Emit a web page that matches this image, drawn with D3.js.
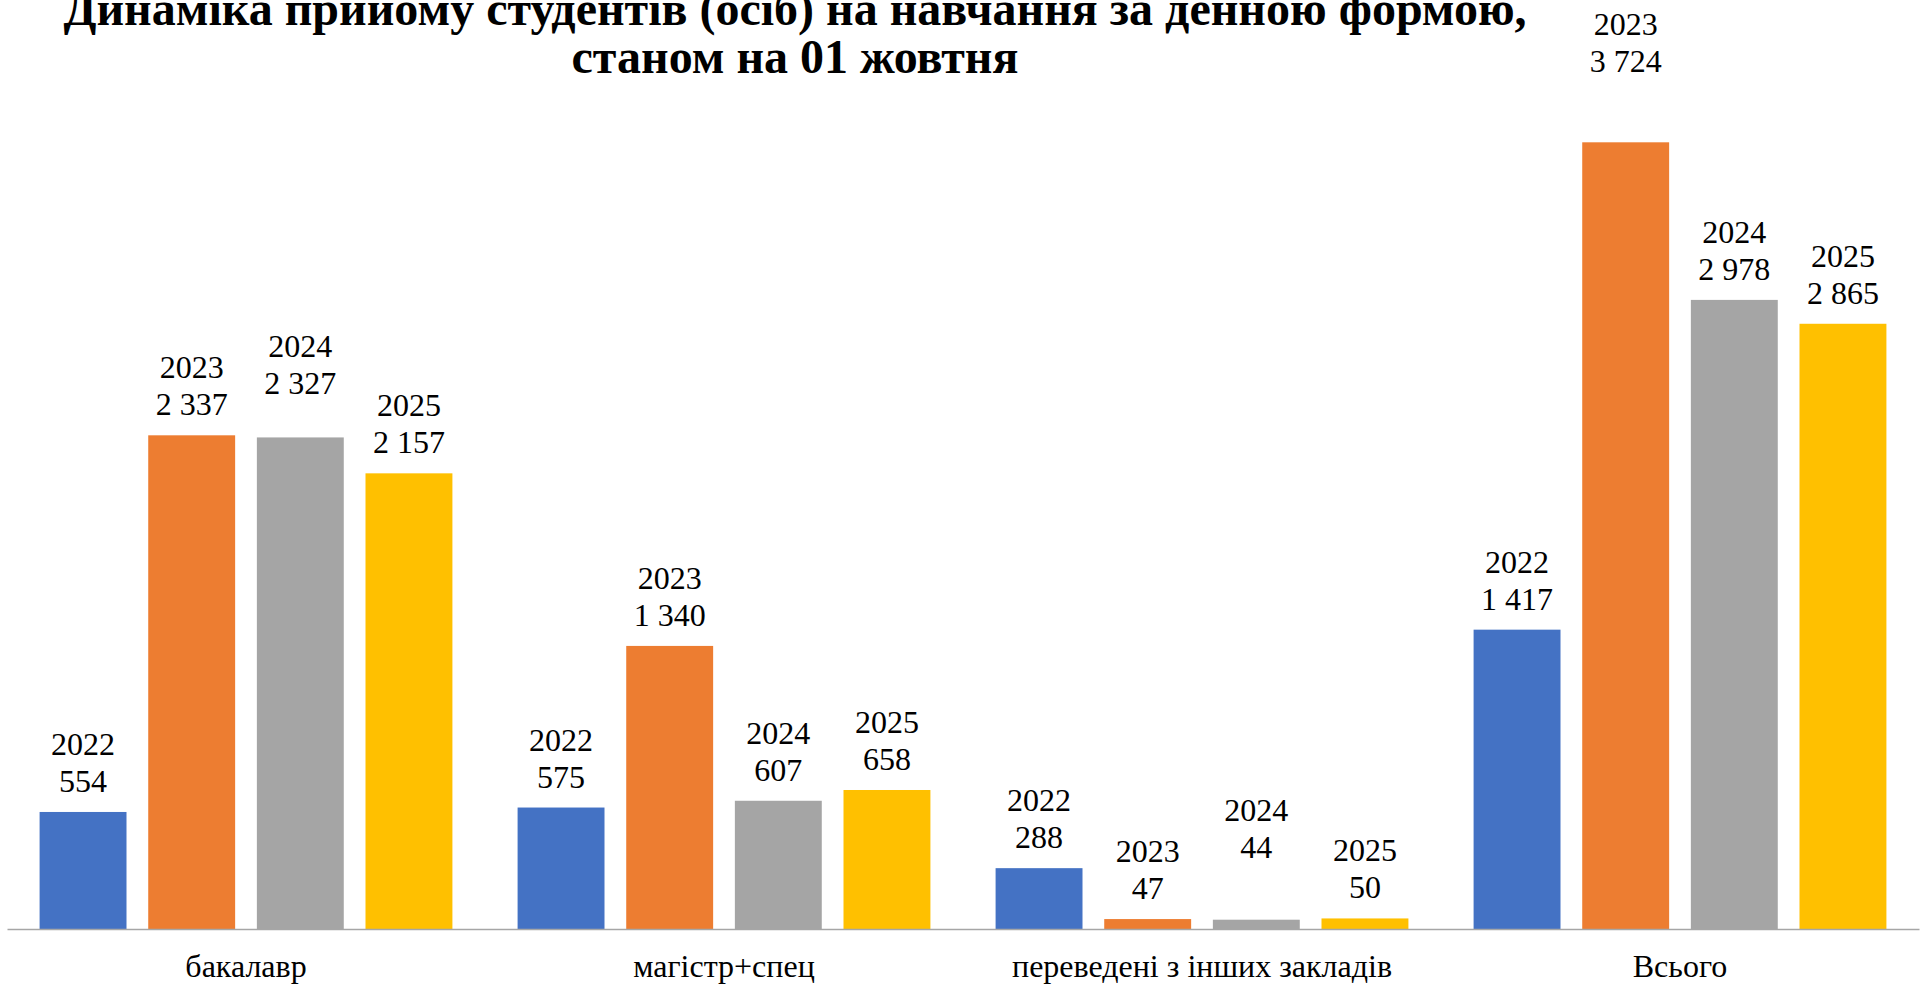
<!DOCTYPE html>
<html>
<head>
<meta charset="utf-8">
<script src="https://cdn.jsdelivr.net/npm/d3@7"></script>
<style>
  html, body { margin: 0; padding: 0; background: #fff; overflow: hidden; }
</style>
</head>
<body>
<div id="chart"></div>
<script>
// categories and years
const categories = ["бакалавр", "магістр+спец", "переведені з інших закладів", "Всього"];
const years = ["2022", "2023", "2024", "2025"];

// values per year, in category order
const v2022 = [554, 575, 288, 1417];
const v2023 = [2337, 1340, 47, 3724];
const v2024 = [2327, 607, 44, 2978];
const v2025 = [2157, 658, 50, 2865];

const colors = ["#4472c4", "#ed7d31", "#a5a5a5", "#ffc000"];

// some labels were dragged up by hand in the original
const labelLift = { "бакалавр|2024": 23, "переведені з інших закладів|2024": 42, "Всього|2023": 50 };

const FONT = "Liberation Serif";
const W = 1921, H = 993;
const baseY = 929;

const byYear = [v2022, v2023, v2024, v2025];
const data = categories.map((c, i) => ({
  cat: c,
  vals: years.map((yr, j) => ({ cat: c, year: yr, value: byYear[j][i] }))
}));

const svg = d3.select("#chart")
  .append("svg")
  .attr("width", W)
  .attr("height", H);

const x0 = d3.scaleBand()
  .domain(categories)
  .range([7, 1919])
  .padding(0);

const x1 = d3.scaleBand()
  .domain(years)
  .range([0, x0.bandwidth()])
  .paddingInner(0.2)
  .paddingOuter(0.3);

const y = d3.scaleLinear()
  .domain([0, 4000])
  .range([baseY, baseY - 845]);

const fmt = v => d3.format(",")(v).replace(/,/g, " ");

// Title (top of first line is clipped, as in the original)
svg.append("text")
  .attr("x", 795).attr("y", 25)
  .attr("text-anchor", "middle")
  .attr("font-family", FONT)
  .attr("font-size", 48)
  .attr("font-weight", "bold")
  .text("Динаміка прийому студентів (осіб) на навчання за денною формою,");
svg.append("text")
  .attr("x", 795).attr("y", 73)
  .attr("text-anchor", "middle")
  .attr("font-family", FONT)
  .attr("font-size", 48)
  .attr("font-weight", "bold")
  .text("станом на 01 жовтня");

// Bars
const groups = svg.selectAll("g.grp")
  .data(data)
  .join("g")
  .attr("class", "grp")
  .attr("transform", d => `translate(${x0(d.cat)},0)`);

groups.selectAll("rect")
  .data(d => d.vals)
  .join("rect")
  .attr("x", d => x1(d.year))
  .attr("y", d => y(d.value))
  .attr("width", x1.bandwidth())
  .attr("height", d => baseY - y(d.value))
  .attr("fill", (d, i) => colors[i]);

// Data labels: year over value
const labelY = d => y(d.value) - 20 - (labelLift[d.cat + "|" + d.year] || 0);
const cxOf = d => x1(d.year) + x1.bandwidth() / 2;

groups.selectAll("text.yr")
  .data(d => d.vals)
  .join("text")
  .attr("class", "yr")
  .attr("x", cxOf)
  .attr("y", d => labelY(d) - 37)
  .attr("text-anchor", "middle")
  .attr("font-family", FONT)
  .attr("font-size", 32)
  .text(d => d.year);

groups.selectAll("text.val")
  .data(d => d.vals)
  .join("text")
  .attr("class", "val")
  .attr("x", cxOf)
  .attr("y", labelY)
  .attr("text-anchor", "middle")
  .attr("font-family", FONT)
  .attr("font-size", 32)
  .text(d => fmt(d.value));

// Category axis
const xAxis = svg.append("g")
  .attr("transform", `translate(0,${baseY})`)
  .call(d3.axisBottom(x0).tickSize(0).tickPadding(25));
xAxis.select(".domain").attr("stroke", "#a6a6a6").attr("stroke-width", 1.5);
xAxis.selectAll("text")
  .attr("font-family", FONT)
  .attr("font-size", 32)
  .attr("fill", "#000");
</script>
</body>
</html>
